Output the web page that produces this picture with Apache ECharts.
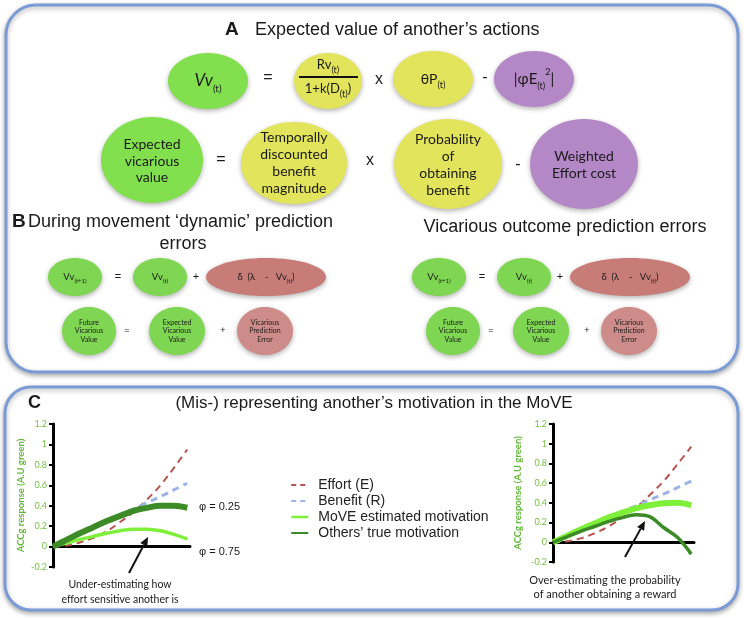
<!DOCTYPE html>
<html><head><meta charset="utf-8">
<script src="https://cdn.jsdelivr.net/npm/echarts@6/dist/echarts.min.js"></script>
<style>html,body{margin:0;padding:0;background:#fff}#c{width:744px;height:618px}</style>
</head><body><div id="c"></div>
<script>
// ---------- data ----------
const xSteps = [0, 1, 2, 3, 4, 5, 6, 7, 8, 9, 10];
const yTickMin = -0.2, yTickMax = 1.2, yTickStep = 0.2;
const seriesNames = ['Effort (E)', 'Benefit (R)', 'MoVE estimated motivation', 'Others\u2019 true motivation'];
const effortLeft     = [0, 0.01, 0.04, 0.085, 0.15, 0.24, 0.34, 0.46, 0.60, 0.77, 0.95];
const benefitLeft    = [0, 0.065, 0.13, 0.195, 0.255, 0.315, 0.37, 0.43, 0.49, 0.555, 0.62];
const estimatedLeft  = [0, 0.035, 0.07, 0.10, 0.13, 0.155, 0.17, 0.17, 0.155, 0.12, 0.075];
const trueLeft       = [0, 0.065, 0.13, 0.19, 0.25, 0.30, 0.35, 0.38, 0.40, 0.40, 0.38];
const effortRight    = [0, 0.01, 0.04, 0.09, 0.16, 0.25, 0.35, 0.48, 0.62, 0.79, 0.97];
const benefitRight   = [0, 0.065, 0.13, 0.19, 0.25, 0.31, 0.37, 0.43, 0.49, 0.555, 0.62];
const estimatedRight = [0, 0.065, 0.13, 0.19, 0.25, 0.30, 0.345, 0.375, 0.395, 0.40, 0.375];
const trueRight      = [0, 0.055, 0.11, 0.16, 0.21, 0.25, 0.28, 0.26, 0.15, 0.05, -0.12];
const phiLabels = ['\u03c6 = 0.25', '\u03c6 = 0.75'];
const yAxisName = 'ACCg response (A.U green)';

// ---------- styles ----------
const TF = '"Liberation Sans", Arial, sans-serif';
const EF = 'Lato, "Open Sans", sans-serif';
const C = {
  green: '#82df4e', greenB: '#7fd653', yellow: '#e2e45b', purple: '#b487c6',
  red: '#c87c78', red2: '#cd8c89', border: '#7b9bd6',
  effort: '#b4544f', benefit: '#9db3e6', est: '#7ef03a', tru: '#3d8b26',
  tick: '#77c244'
};

const g = [];
const shadow = {shadowBlur: 5, shadowColor: 'rgba(0,0,0,0.3)', shadowOffsetY: 2};
function panel(x, y, w, h, r) {
  g.push({type: 'rect', shape: {x, y, width: w, height: h, r}, z: 0,
    style: Object.assign({fill: '#fff', stroke: C.border, lineWidth: 3}, shadow)});
}
function ell(cx, cy, rx, ry, fill) {
  g.push({type: 'ellipse', shape: {cx, cy, rx, ry}, z: 1,
    style: Object.assign({fill}, shadow)});
}
function txt(x, y, text, size, opts) {
  opts = opts || {};
  g.push({type: 'text', x, y, z: 5, style: Object.assign({
    text, fontSize: size, fontFamily: opts.family || EF, fontWeight: opts.weight || 'normal',
    fontStyle: opts.style || 'normal',
    fill: opts.color || '#1a1a1a', align: opts.align || 'center', verticalAlign: 'middle',
    textAlign: opts.align || 'center', textVerticalAlign: 'middle', lineHeight: opts.lh
  }, opts.rich ? {rich: opts.rich} : {})});
}
function richSub(size, sub) {
  return {
    m: {fontSize: size, fontFamily: EF, fill: '#1a1a1a', lineHeight: size * 1.5},
    i: {fontSize: size, fontFamily: EF, fontStyle: 'italic', fill: '#1a1a1a', lineHeight: size * 1.5},
    s: {fontSize: sub, fontFamily: EF, fill: '#1a1a1a', verticalAlign: 'bottom', lineHeight: size * 1.5},
    p: {fontSize: sub, fontFamily: EF, fill: '#1a1a1a', verticalAlign: 'top', lineHeight: size * 1.5}
  };
}

// Panels
panel(6, 5, 732, 367, 30);
panel(5, 387, 733, 223, 26);

// ----- Panel A -----
txt(225, 30, 'A', 19, {family: TF, weight: 'bold', align: 'left'});
txt(255, 30, 'Expected value of another\u2019s actions', 18, {family: TF, align: 'left'});

ell(208, 81, 40, 28, C.green);
txt(208, 81, '{i|Vv}{s|(t)}', 17, {rich: richSub(17, 10)});
txt(268, 78, '=', 16, {family: TF});
ell(328, 81, 34, 28, C.yellow);
txt(328, 65, '{m|Rv}{s|(t)}', 13, {rich: richSub(13, 9)});
g.push({type: 'line', z: 5, shape: {x1: 299, y1: 77, x2: 358, y2: 77}, style: {stroke: '#111', lineWidth: 2}});
txt(328, 89, '{m|1+k(D}{s|(t)}{m|)}', 13, {rich: richSub(13, 9)});
txt(379, 80, 'x', 16, {family: TF});
ell(433, 79, 40, 28, C.yellow);
txt(433, 79, '{m|\u03b8P}{s|(t)}', 14, {rich: richSub(14, 9)});
txt(485, 78, '-', 16, {family: TF});
ell(534, 79, 40, 28, C.purple);
txt(534, 79, '{m||\u03c6E}{s|(t)}{p|2}{m||}', 15, {rich: richSub(15, 9)});

ell(152, 160, 51, 43, C.green);
txt(152, 161, 'Expected\nvicarious\nvalue', 14, {lh: 16.5});
txt(221, 160, '=', 16, {family: TF});
ell(294, 163, 53, 41, C.yellow);
txt(294, 163, 'Temporally\ndiscounted\nbenefit\nmagnitude', 14, {lh: 16.7});
txt(370, 161, 'x', 16, {family: TF});
ell(448, 164, 54, 45, C.yellow);
txt(448, 165, 'Probability\nof\nobtaining\nbenefit', 14, {lh: 16.7});
txt(518, 165, '-', 16, {family: TF});
ell(584, 164, 54, 45, C.purple);
txt(584, 165, 'Weighted\nEffort cost', 14, {lh: 16.7});

// ----- Panel B -----
txt(12, 222, 'B', 19, {family: TF, weight: 'bold', align: 'left'});
txt(28, 222, 'During movement \u2018dynamic\u2019 prediction', 18, {family: TF, align: 'left'});
txt(183, 244, 'errors', 18, {family: TF});
txt(565, 227, 'Vicarious outcome prediction errors', 18, {family: TF});

function bRow(d) {
  ell(75 + d, 277, 27, 19, C.greenB);
  txt(75 + d, 277, '{m|Vv}{s|(t+1)}', 9.5, {rich: richSub(9.5, 6)});
  txt(118 + d, 277, '=', 11, {family: TF});
  ell(160 + d, 277, 27, 19, C.greenB);
  txt(160 + d, 277, '{m|Vv}{s|(t)}', 9.5, {rich: richSub(9.5, 6)});
  txt(196 + d, 277, '+', 11, {family: TF});
  ell(266 + d, 277, 60, 19, C.red);
  txt(266 + d, 277, '{m|\u03b4  (\u03bb    -   Vv}{s|(t)}{m|)}', 9.5, {rich: richSub(9.5, 6)});

  ell(89 + d, 331, 27, 24, C.greenB);
  txt(89 + d, 331, 'Future\nVicarious\nValue', 7, {lh: 8.7});
  txt(127 + d, 331, '=', 9, {family: TF});
  ell(177 + d, 331, 28, 24, C.greenB);
  txt(177 + d, 331, 'Expected\nVicarious\nValue', 7, {lh: 8.7});
  txt(223 + d, 331, '+', 9, {family: TF});
  ell(265 + d, 331, 28, 24, C.red2);
  txt(265 + d, 331, 'Vicarious\nPrediction\nError', 7, {lh: 8.7});
}
bRow(0);
bRow(364);

// ----- Panel C -----
txt(28, 403, 'C', 18, {family: TF, weight: 'bold', align: 'left'});
txt(374, 403, '(Mis-) representing another\u2019s motivation in the MoVE', 17, {family: TF});
txt(199, 507, phiLabels[0], 11, {family: TF, align: 'left'});
txt(199, 552, phiLabels[1], 11, {family: TF, align: 'left'});
txt(120, 585, 'Under-estimating how', 10.5);
txt(120, 600, 'effort sensitive another is', 10.5);
txt(605, 580, 'Over-estimating the probability', 11);
txt(605, 594, 'of another obtaining a reward', 11);
function arrow(x1, y1, x2, y2) {
  const dx = x2 - x1, dy = y2 - y1, L = Math.hypot(dx, dy), ux = dx / L, uy = dy / L;
  const bx = x2 - ux * 9, by = y2 - uy * 9, px = -uy * 4, py = ux * 4;
  g.push({type: 'line', z: 6, shape: {x1, y1, x2: bx, y2: by}, style: {stroke: '#111', lineWidth: 2}});
  g.push({type: 'polygon', z: 6, shape: {points: [[x2, y2], [bx + px, by + py], [bx - px, by - py]]}, style: {fill: '#111'}});
}
arrow(129, 573, 148, 537);
arrow(625, 557, 645, 521);

// ---------- charts ----------
function yAx(gridIndex) {
  return {
    type: 'value', gridIndex, min: yTickMin, max: yTickMax, interval: yTickStep,
    name: yAxisName, nameLocation: 'middle', nameGap: gridIndex === 0 ? 27 : 30,
    nameTextStyle: {color: '#62b83a', fontWeight: 'bold', fontSize: 9.5, fontFamily: EF},
    axisLine: {show: true, lineStyle: {color: '#000', width: 3}},
    axisTick: {show: true, length: 4, lineStyle: {color: '#000', width: 2}},
    axisLabel: {color: C.tick, fontSize: 9, fontFamily: EF, margin: 6,
      formatter: v => String(+v.toFixed(1))},
    splitLine: {show: false}
  };
}
function xAx(gridIndex) {
  return {
    type: 'value', gridIndex, min: 0, max: 10.2,
    axisLine: {show: true, onZero: true, lineStyle: {color: '#000', width: 3}},
    axisTick: {show: false}, axisLabel: {show: false}, splitLine: {show: false}
  };
}
function pairs(arr) { return xSteps.map((x, i) => [x, arr[i]]); }
function ser(name, idx, data, color, width, dashed, z) {
  return {
    name, type: 'line', xAxisIndex: idx, yAxisIndex: idx, data: pairs(data),
    showSymbol: false, symbol: 'none', smooth: 0.35, z,
    lineStyle: {color, width, type: dashed ? [7, 5] : 'solid', cap: 'butt'},
    itemStyle: {color}
  };
}
const legendLine = {opacity: 0, borderWidth: 0};

const option = {
  backgroundColor: '#fff',
  animation: false,
  graphic: {elements: g},
  grid: [
    {left: 53, top: 424, width: 137, height: 143},
    {left: 553, top: 424, width: 141, height: 138}
  ],
  xAxis: [xAx(0), xAx(1)],
  yAxis: [yAx(0), yAx(1)],
  legend: {
    orient: 'vertical', left: 285, top: 473, itemGap: 2, itemWidth: 17, itemHeight: 14,
    itemStyle: legendLine,
    textStyle: {fontFamily: TF, fontSize: 14, color: '#222', padding: [0, 0, 0, 5]},
    data: [
      {name: seriesNames[0], lineStyle: {width: 2, type: [5, 4]}, itemStyle: legendLine},
      {name: seriesNames[1], lineStyle: {width: 2, type: [5, 4]}, itemStyle: legendLine},
      {name: seriesNames[2], lineStyle: {width: 2.5}, itemStyle: legendLine},
      {name: seriesNames[3], lineStyle: {width: 2}, itemStyle: legendLine}
    ]
  },
  series: [
    ser(seriesNames[0], 0, effortLeft, C.effort, 2, true, 2),
    ser(seriesNames[1], 0, benefitLeft, C.benefit, 3, true, 2),
    ser(seriesNames[2], 0, estimatedLeft, C.est, 3.5, false, 3),
    ser(seriesNames[3], 0, trueLeft, C.tru, 6, false, 4),
    ser(seriesNames[0], 1, effortRight, C.effort, 2, true, 2),
    ser(seriesNames[1], 1, benefitRight, C.benefit, 3, true, 2),
    ser(seriesNames[2], 1, estimatedRight, C.est, 6, false, 3),
    ser(seriesNames[3], 1, trueRight, C.tru, 3.5, false, 4)
  ]
};
const chart = echarts.init(document.getElementById('c'), null, {renderer: 'canvas'});
chart.setOption(option);
</script>
</body></html>
